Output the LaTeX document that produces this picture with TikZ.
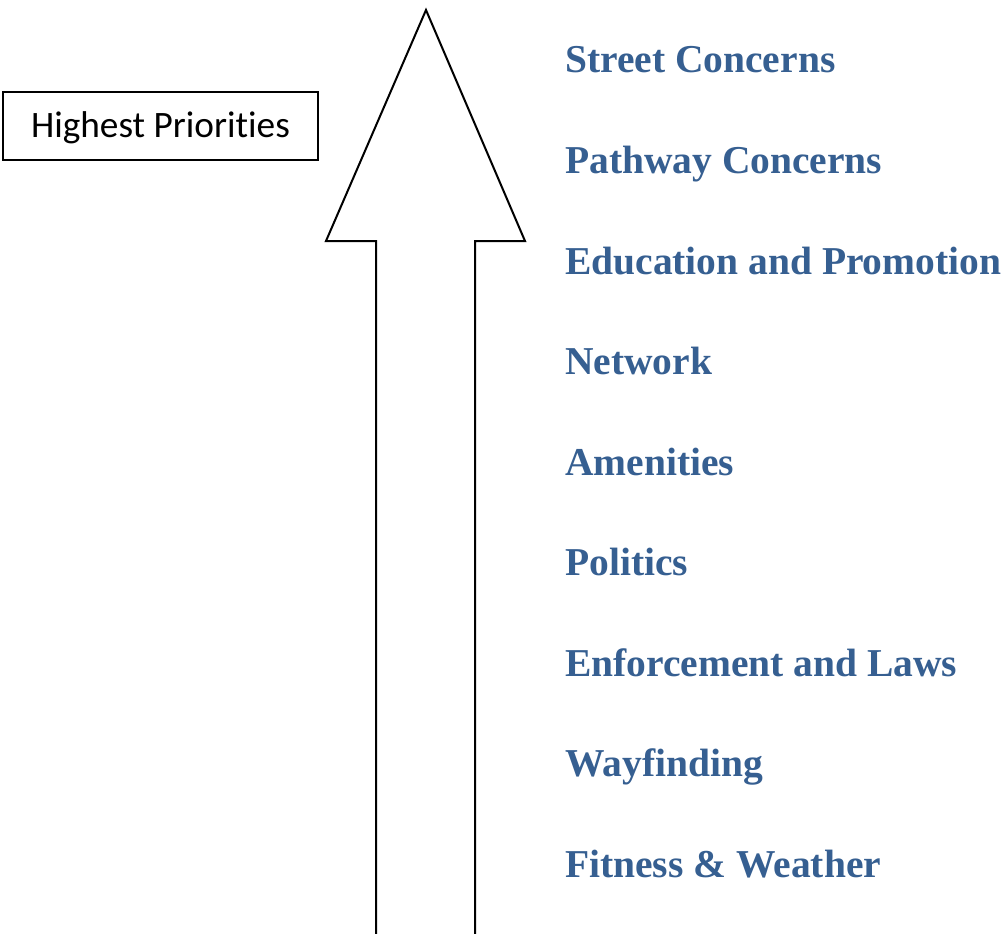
\documentclass[tikz,border=0pt]{standalone}
\usepackage{fontspec}
\setmainfont{Liberation Serif}
\newfontfamily\boxfont[Ligatures=NoCommon]{Carlito}
\definecolor{headblue}{RGB}{54,95,145}
\begin{document}
\begin{tikzpicture}[x=1pt,y=-1pt,
  item/.style={anchor=base west,inner sep=0pt,text=headblue,font=\fontsize{39.5}{39.5}\selectfont\bfseries},
  outline/.style={draw=black,line width=2pt,line join=miter}]
\useasboundingbox (0,0) rectangle (1005,934);
\node[draw=black,line width=1.8pt,minimum width=315pt,minimum height=68pt,inner sep=0pt,
  text height=22pt,text depth=0pt,
  font=\boxfont\fontsize{37.3}{37.3}\selectfont] (hp) at (160.5,126) {Highest Priorities};
\coordinate (tip) at (426,10);
\coordinate (hl) at (326,241);
\coordinate (hr) at (525,241);
\coordinate (sl) at (376,241);
\coordinate (sr) at (475,241);
\coordinate (bl) at (376,934);
\coordinate (br) at (475,934);
\draw[outline] (bl) -- (sl) -- (hl) -- (tip) -- (hr) -- (sr) -- (br);
\node[item] (i1) at (565,73) {Street Concerns};
\node[item] (i2) at (565,173.5) {Pathway Concerns};
\node[item] (i3) at (565,274) {Education and Promotion};
\node[item] (i4) at (565,374.5) {Network};
\node[item] (i5) at (565,475) {Amenities};
\node[item] (i6) at (565,575.5) {Politics};
\node[item] (i7) at (565,676) {Enforcement and Laws};
\node[item] (i8) at (565,776.5) {Wayfinding};
\node[item] (i9) at (565,877) {Fitness \& Weather};
\end{tikzpicture}
\end{document}
